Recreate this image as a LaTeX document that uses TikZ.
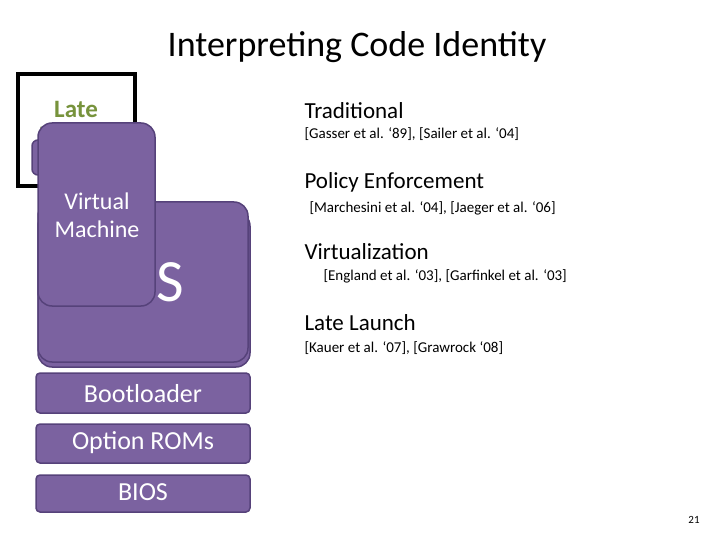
\documentclass[tikz,border=0pt]{standalone}
\usepackage{fontspec}
\setmainfont{Carlito}
\definecolor{pf}{HTML}{7B62A0}
\definecolor{pb}{HTML}{56427A}
\definecolor{gr}{HTML}{77933C}
\begin{document}
\begin{tikzpicture}[x=1pt,y=-1pt,
  box/.style={draw=pb,line width=1.5pt,fill=pf,rounded corners=#1},
  box/.default=4pt,
  wt/.style={text=white,font=\fontsize{26}{28}\selectfont},
  hd/.style={anchor=west,font=\fontsize{23}{25}\selectfont},
  rf/.style={anchor=west,font=\fontsize{15}{17}\selectfont}]
\useasboundingbox (0,0) rectangle (720,540);
\node[font=\fontsize{36}{38}\selectfont] (title) at (357,47) {Interpreting Code Identity};
% Late launch box
\draw[line width=4pt] (18,74) rectangle (135,186);
\node[text=gr,font=\bfseries\fontsize{25}{26}\selectfont,align=center] (ll) at (76,122) {Late\\Launch};
\draw[box=6pt] (32,140) rectangle (60,175);
% OS
\draw[box=14pt] (38,212) rectangle (250,367);
\draw[box=14pt] (38,202) rectangle (248,362);
\node[text=white,font=\fontsize{60}{60}\selectfont] (os) at (150,282) {OS};
% VM
\draw[box=14pt] (38,123) rectangle (155,306);
\node[wt,align=center,font=\fontsize{24}{28}\selectfont] (vm) at (97,215) {Virtual\\Machine};
% stack
\draw[box] (36,373) rectangle (250,413);
\node[wt] (bl) at (143,394) {Bootloader};
\draw[box] (36,424) rectangle (250,463);
\node[wt] (or) at (143,443) {Option ROMs};
\draw[box] (36,475) rectangle (250,512);
\node[wt] (bios) at (143,492) {BIOS};
% right text
\node[hd] (t1) at (301,111) {Traditional};
\node[rf] (r1) at (301,134) {[Gasser et al. ‘89], [Sailer et al. ‘04]};
\node[hd] (t2) at (301,182) {Policy Enforcement};
\node[rf] (r2) at (306,208) {[Marchesini et al. ‘04], [Jaeger et al. ‘06]};
\node[hd] (t3) at (301,252) {Virtualization};
\node[rf] (r3) at (320,276) {[England et al. ‘03], [Garfinkel et al. ‘03]};
\node[hd] (t4) at (301,323) {Late Launch};
\node[rf] (r4) at (301,348) {[Kauer et al. ‘07], [Grawrock ‘08]};
\node[font=\fontsize{11}{12}\selectfont] (pg) at (694,520) {21};
\end{tikzpicture}
\end{document}
